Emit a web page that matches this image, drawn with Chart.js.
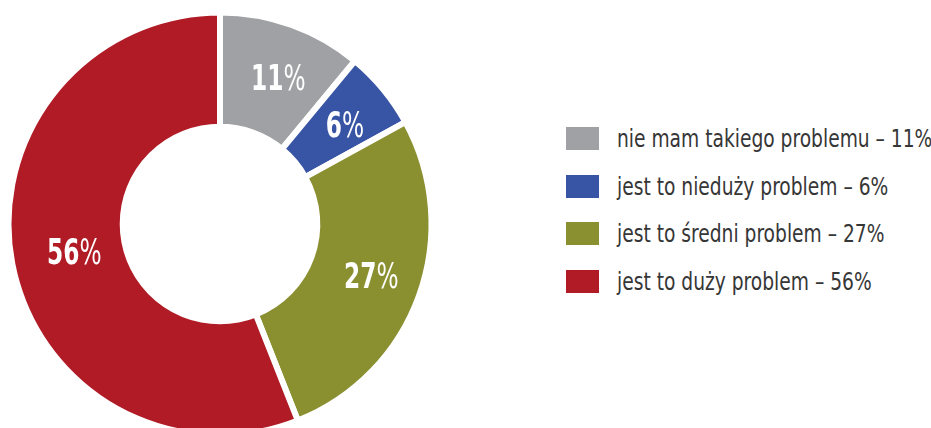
<!DOCTYPE html>
<html lang="pl">
<head>
<meta charset="utf-8">
<script src="https://cdn.jsdelivr.net/npm/chart.js@4.4.1/dist/chart.umd.min.js"></script>
<style>
  html, body { margin: 0; padding: 0; background: #fff; }
  #page { position: relative; width: 931px; height: 428px; overflow: hidden; }
  #pie { position: absolute; left: 0; top: 0; width: 440px; height: 448px; }
  #legend { position: absolute; left: 566px; top: 127px; margin: 0; padding: 0; list-style: none;
            font-family: 'DejaVu Sans Condensed', 'DejaVu Sans', sans-serif; font-stretch: condensed; }
  #legend li { height: 23px; margin-bottom: 24.5px; display: flex; align-items: center;
               font-size: 25px; color: #363636; white-space: nowrap; }
  #legend .box { width: 33px; height: 23px; margin-right: 18px; flex: none; }
  #legend .txt { display: inline-block; transform: scaleX(0.83); transform-origin: 0 50%; }
</style>
</head>
<body>
<div id="page">
  <div id="pie"><canvas id="chart" width="440" height="448"></canvas></div>
  <ul id="legend"></ul>
</div>
<script>
(function() {
    'use strict';

    // ── Dane ────────────────────────────────────────────────────────────
    var categories = [
        'nie mam takiego problemu',
        'jest to nieduży problem',
        'jest to średni problem',
        'jest to duży problem'
    ];
    var shares = [11, 6, 27, 56];
    var colors = ['#a0a1a5', '#3854a4', '#8a8f30', '#b01b26'];

    // ── Legenda (HTML) ──────────────────────────────────────────────────
    var legend = document.getElementById('legend');
    categories.forEach(function(name, i) {
        var li = document.createElement('li');
        var box = document.createElement('span');
        box.className = 'box';
        box.style.background = colors[i];
        var txt = document.createElement('span');
        txt.className = 'txt';
        txt.textContent = name + ' \u2013 ' + shares[i] + '%';
        li.appendChild(box);
        li.appendChild(txt);
        legend.appendChild(li);
    });

    // ── Etykiety procentowe na wycinkach ────────────────────────────────
    var FONT = '"DejaVu Sans Condensed", "DejaVu Sans", sans-serif';
    var SQUEEZE = 0.72;   // zwężenie napisów w poziomie

    var sliceLabels = {
        id: 'sliceLabels',
        afterDatasetsDraw: function(chart) {
            var ctx = chart.ctx;
            var meta = chart.getDatasetMeta(0);
            ctx.save();
            ctx.fillStyle = '#fff';
            ctx.textBaseline = 'middle';
            ctx.textAlign = 'left';
            meta.data.forEach(function(arc, i) {
                var p = arc.tooltipPosition();
                var num = String(shares[i]);
                ctx.font = 'bold 36px ' + FONT;
                var wNum = ctx.measureText(num).width;
                ctx.font = '36px ' + FONT;
                var wPct = ctx.measureText('%').width;

                ctx.save();
                ctx.translate(p.x + 6, p.y + 2);
                ctx.scale(SQUEEZE, 1);
                var x = -(wNum + wPct) / 2;
                ctx.font = 'bold 36px ' + FONT;
                ctx.fillText(num, x, 0);
                ctx.font = '36px ' + FONT;
                ctx.fillText('%', x + wNum, 0);
                ctx.restore();
            });
            ctx.restore();
        }
    };

    new Chart(document.getElementById('chart'), {
        type: 'doughnut',
        data: {
            labels: categories,
            datasets: [{
                data: shares,
                backgroundColor: colors,
                borderColor: '#fff',
                borderWidth: 6,
                hoverOffset: 0
            }]
        },
        options: {
            responsive: false,
            animation: false,
            radius: 211.5,
            cutout: '46%',
            layout: { padding: 0 },
            plugins: {
                legend: { display: false },
                tooltip: { enabled: false }
            }
        },
        plugins: [sliceLabels]
    });
})();
</script>
</body>
</html>
